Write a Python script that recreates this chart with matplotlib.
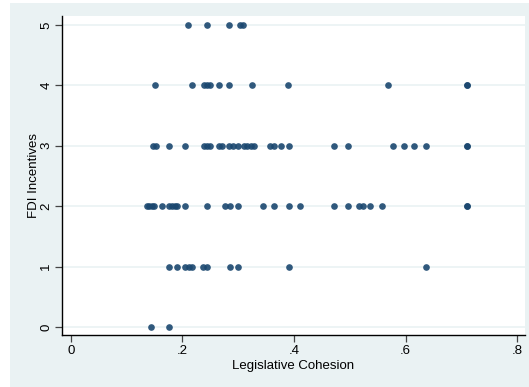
import numpy as np
import matplotlib.pyplot as plt
from matplotlib.patches import Rectangle

plt.rcParams['font.family'] = ['Liberation Sans', 'DejaVu Sans']

# cohesion values, one list per incentive level
cohesion_0 = [0.144, 0.177]
cohesion_1 = [0.177, 0.191, 0.205, 0.212, 0.218, 0.237, 0.244, 0.285, 0.299,
              0.391, 0.637]
cohesion_2 = [0.136, 0.141, 0.146, 0.150, 0.164, 0.176, 0.181, 0.186, 0.191,
              0.205, 0.244, 0.276, 0.285, 0.299, 0.344, 0.364, 0.391, 0.411,
              0.471, 0.497, 0.517, 0.523, 0.537, 0.557, 0.710, 0.710]
cohesion_3 = [0.147, 0.153, 0.177, 0.204, 0.239, 0.245, 0.250, 0.266, 0.271,
              0.284, 0.291, 0.300, 0.311, 0.316, 0.323, 0.329, 0.357, 0.364,
              0.377, 0.391, 0.471, 0.497, 0.577, 0.597, 0.616, 0.637, 0.710,
              0.710]
cohesion_4 = [0.151, 0.217, 0.238, 0.244, 0.250, 0.266, 0.284, 0.324, 0.390,
              0.569, 0.710, 0.710]
cohesion_5 = [0.211, 0.244, 0.284, 0.303, 0.308]

levels = [0, 1, 2, 3, 4, 5]
groups = [cohesion_0, cohesion_1, cohesion_2, cohesion_3, cohesion_4, cohesion_5]

x_ticks = [0, 0.2, 0.4, 0.6, 0.8]
x_labels = ["0", ".2", ".4", ".6", ".8"]

bg = "#EAF2F3"
navy = "#1A476F"

fig = plt.figure(figsize=(5.29, 3.87), dpi=100, facecolor="white")
fig.patches.append(Rectangle((10 / 529, 0), 1, 1 - 3 / 387, transform=fig.transFigure,
                             facecolor=bg, edgecolor="none", zorder=-10))

ax = fig.add_axes([62 / 529, 52 / 387, 463 / 529, 319 / 387])
ax.set_facecolor("white")

for lvl, xs in zip(levels, groups):
    ax.plot(xs, [lvl] * len(xs), "o", color=navy, markersize=4.8,
            markeredgewidth=0, alpha=0.9, zorder=3)

ax.set_xlim(-0.0156, 0.814)
ax.set_ylim(-0.132, 5.149)
ax.set_xticks(x_ticks)
ax.set_xticklabels(x_labels)
ax.set_yticks(levels)
ax.set_yticklabels([str(v) for v in levels], rotation=90, va="center")

for lvl in levels:
    ax.axhline(lvl, color=bg, linewidth=1.2, zorder=1)

for side in ["top", "right"]:
    ax.spines[side].set_visible(False)
for side in ["left", "bottom"]:
    ax.spines[side].set_linewidth(1.0)
    ax.spines[side].set_color("black")

ax.tick_params(direction="out", length=5, width=0.9, color="#444444",
               labelsize=9.5, pad=2)
ax.set_xlabel("Legislative Cohesion", fontsize=9.5, labelpad=2)
ax.set_ylabel("FDI Incentives", fontsize=9.5, labelpad=0)

fig.savefig("out.png", dpi=100, facecolor=fig.get_facecolor())
